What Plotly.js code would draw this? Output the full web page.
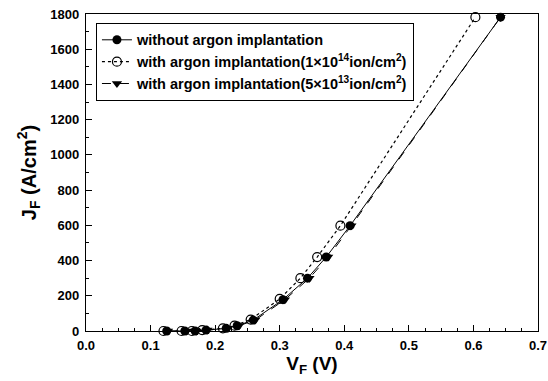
<!DOCTYPE html>
<html>
<head>
<meta charset="utf-8">
<script src="https://cdn.plot.ly/plotly-3.0.1.min.js"></script>
<style>html,body{margin:0;padding:0;background:#fff;}#chart{width:548px;height:381px;}</style>
</head>
<body>
<div id="chart"></div>
<script>
const names = [
  "without argon implantation",
  "with argon implantation(1×10<sup>14</sup>ion/cm<sup>2</sup>)",
  "with argon implantation(5×10<sup>13</sup>ion/cm<sup>2</sup>)"
];
const x1 = [0.125,0.153,0.169,0.186,0.217,0.234,0.259,0.305,0.343,0.372,0.409,0.642];
const y1 = [0,0,0,5,15,30,62,178,300,420,598,1782];
const x2 = [0.120,0.148,0.164,0.180,0.212,0.230,0.255,0.300,0.332,0.358,0.394,0.603];
const y2 = [0,0,0,5,15,30,65,182,300,420,598,1782];
const x3 = [0.127,0.156,0.171,0.188,0.220,0.237,0.262,0.308,0.346,0.375,0.411,0.642];
const y3 = [0,0,0,5,15,30,62,178,300,420,598,1782];

const FONT = "Liberation Sans, Arial, sans-serif";
const traces = [
  {x:x1, y:y1, name:names[0], mode:'lines+markers', cliponaxis:false,
   line:{color:'#000', width:1}, marker:{symbol:'circle', size:9, color:'#000'}},
  {x:x2, y:y2, name:names[1], mode:'lines+markers', cliponaxis:false,
   line:{color:'#000', width:1.2, dash:'dot'}, marker:{symbol:'circle-open', size:9, color:'#000', line:{width:1.2}}},
  {x:x3, y:y3, name:names[2], mode:'lines+markers', cliponaxis:false,
   line:{color:'#000', width:1, dash:'dash'}, marker:{symbol:'triangle-down', size:9, color:'#000'}}
];
const axisCommon = {
  showgrid:false, zeroline:false, showline:true, linecolor:'#000', linewidth:1.2, mirror:true,
  ticks:'inside', ticklen:6, tickwidth:1.2, tickcolor:'#000',
  tickfont:{family:FONT, size:13, color:'#000', weight:'bold'}
};
const layout = {
  width:548, height:381,
  margin:{l:86, r:10, t:14, b:50},
  paper_bgcolor:'#fff', plot_bgcolor:'#fff',
  showlegend:true,
  legend:{x:0.022, y:0.972, xanchor:'left', yanchor:'top', bordercolor:'#000', borderwidth:1,
    bgcolor:'#fff', font:{family:FONT, size:14.5, color:'#000', weight:'bold'}, tracegroupgap:0},
  xaxis:Object.assign({}, axisCommon, {
    range:[0,0.7], dtick:0.1, tickformat:'.1f', ticklabelstandoff:2,
    minor:{ticks:'inside', ticklen:3, dtick:0.025, tickcolor:'#000', tickwidth:1},
    title:{text:'V<sub>F</sub> (V)', font:{family:FONT, size:19, color:'#000', weight:'bold'}, standoff:4}
  }),
  yaxis:Object.assign({}, axisCommon, {
    range:[0,1800], dtick:200, ticklabelstandoff:3,
    minor:{ticks:'inside', ticklen:3, dtick:100, tickcolor:'#000', tickwidth:1},
    title:{text:'J<sub>F</sub> (A/cm<sup>2</sup>)', font:{family:FONT, size:20, color:'#000', weight:'bold'}, standoff:8}
  })
};
Plotly.newPlot('chart', traces, layout, {displayModeBar:false, staticPlot:true});
</script>
</body>
</html>
